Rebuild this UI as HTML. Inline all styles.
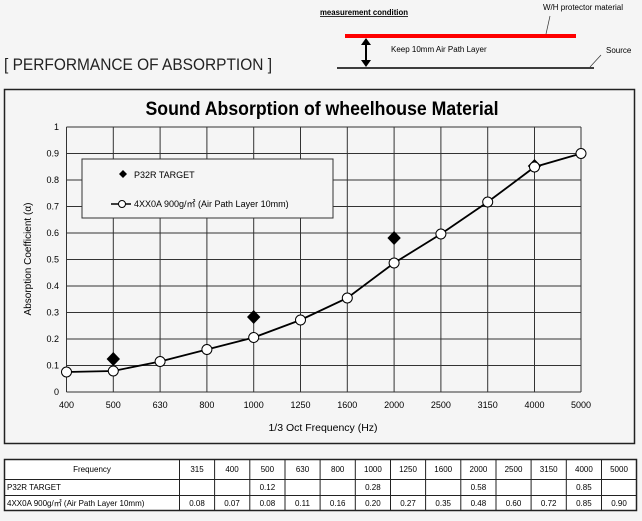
<!DOCTYPE html><html><head><meta charset="utf-8"><style>
body{margin:0;background:#f5f5f5;width:642px;height:516px;overflow:hidden;font-family:"Liberation Sans","Noto Sans CJK JP",sans-serif}
</style></head><body>
<svg width="642" height="516" xmlns="http://www.w3.org/2000/svg" font-family="Liberation Sans, Noto Sans CJK JP, sans-serif">
<rect width="642" height="516" fill="#f5f5f5"/>
<text x="320" y="15" font-size="8" font-weight="bold" text-decoration="underline" textLength="88" lengthAdjust="spacingAndGlyphs">measurement condition</text>
<text x="543" y="10" font-size="8">W/H protector material</text>
<line x1="546" y1="34" x2="550" y2="16" stroke="#333" stroke-width="0.7"/>
<rect x="345" y="34" width="231" height="4" fill="#f00"/>
<line x1="337" y1="68" x2="594" y2="68" stroke="#000" stroke-width="1.5"/>
<line x1="590" y1="67" x2="601" y2="55" stroke="#333" stroke-width="0.7"/>
<text x="606" y="53" font-size="8">Source</text>
<line x1="366" y1="43" x2="366" y2="62" stroke="#000" stroke-width="2"/>
<polygon points="361,45 371,45 366,38" fill="#000"/><polygon points="361,60 371,60 366,67" fill="#000"/>
<text x="391" y="52" font-size="8">Keep 10mm Air Path Layer</text>
<text x="4" y="70" font-size="17" fill="#222" textLength="268" lengthAdjust="spacingAndGlyphs">[ PERFORMANCE OF ABSORPTION ]</text>
<rect x="4.5" y="89.5" width="630" height="354" fill="#f5f5f5" stroke="#222" stroke-width="1.5"/>
<text x="322" y="115" font-size="19" font-weight="bold" text-anchor="middle" textLength="353" lengthAdjust="spacingAndGlyphs">Sound Absorption of wheelhouse Material</text>
<g stroke="#333" stroke-width="1">
<line x1="66.5" y1="127" x2="581" y2="127"/><line x1="66.5" y1="153.5" x2="581" y2="153.5"/><line x1="66.5" y1="180" x2="581" y2="180"/><line x1="66.5" y1="206.5" x2="581" y2="206.5"/><line x1="66.5" y1="233" x2="581" y2="233"/><line x1="66.5" y1="259.5" x2="581" y2="259.5"/><line x1="66.5" y1="286" x2="581" y2="286"/><line x1="66.5" y1="312.5" x2="581" y2="312.5"/><line x1="66.5" y1="339" x2="581" y2="339"/><line x1="66.5" y1="365.5" x2="581" y2="365.5"/><line x1="66.5" y1="392" x2="581" y2="392"/>
<line x1="66.5" y1="127" x2="66.5" y2="392"/><line x1="113.3" y1="127" x2="113.3" y2="392"/><line x1="160.1" y1="127" x2="160.1" y2="392"/><line x1="206.9" y1="127" x2="206.9" y2="392"/><line x1="253.7" y1="127" x2="253.7" y2="392"/><line x1="300.5" y1="127" x2="300.5" y2="392"/><line x1="347.3" y1="127" x2="347.3" y2="392"/><line x1="394.1" y1="127" x2="394.1" y2="392"/><line x1="440.9" y1="127" x2="440.9" y2="392"/><line x1="487.7" y1="127" x2="487.7" y2="392"/><line x1="534.5" y1="127" x2="534.5" y2="392"/><line x1="581" y1="127" x2="581" y2="392"/>
</g>
<g font-size="9" text-anchor="end">
<text x="59" y="130">1</text><text x="59" y="156.5">0.9</text><text x="59" y="183">0.8</text><text x="59" y="209.5">0.7</text><text x="59" y="236">0.6</text><text x="59" y="262.5">0.5</text><text x="59" y="289">0.4</text><text x="59" y="315.5">0.3</text><text x="59" y="342">0.2</text><text x="59" y="368.5">0.1</text><text x="59" y="395">0</text>
</g>
<g font-size="9" text-anchor="middle">
<text x="66.5" y="408">400</text><text x="113.3" y="408">500</text><text x="160.1" y="408">630</text><text x="206.9" y="408">800</text><text x="253.7" y="408">1000</text><text x="300.5" y="408">1250</text><text x="347.3" y="408">1600</text><text x="394.1" y="408">2000</text><text x="440.9" y="408">2500</text><text x="487.7" y="408">3150</text><text x="534.5" y="408">4000</text><text x="581" y="408">5000</text>
</g>
<text x="323" y="431" font-size="10.5" text-anchor="middle">1/3 Oct Frequency (Hz)</text>
<text transform="translate(31,259) rotate(-90)" font-size="10" text-anchor="middle">Absorption Coefficient (α)</text>
<rect x="82" y="159" width="251" height="59" fill="#f5f5f5" stroke="#333"/>
<polygon points="123,170 127,174 123,178 119,174" fill="#000"/>
<text x="134" y="178" font-size="9">P32R TARGET</text>
<line x1="111" y1="204" x2="131" y2="204" stroke="#000" stroke-width="1.5"/><circle cx="122" cy="204" r="3.5" fill="#fff" stroke="#000"/>
<text x="134" y="207" font-size="9">4XX0A 900g/㎡ (Air Path Layer 10mm)</text>
<g fill="#000">
<polygon points="113.3,352 120,359 113.3,366 106.6,359"/><polygon points="253.7,310 260.4,317 253.7,324 247,317"/><polygon points="394.1,231 400.8,238 394.1,245 387.4,238"/><polygon points="534.5,159 541.2,166 534.5,173 527.8,166"/>
</g>
<polyline fill="none" stroke="#000" stroke-width="1.8" points="66.5,372 113.3,371 160.1,361.5 206.9,349.5 253.7,337.5 300.5,320 347.3,298 394.1,263 440.9,234 487.7,202 534.5,167 581,153.5"/>
<g fill="#fff" stroke="#000" stroke-width="1">
<circle cx="66.5" cy="372" r="5"/><circle cx="113.3" cy="371" r="5"/><circle cx="160.1" cy="361.5" r="5"/><circle cx="206.9" cy="349.5" r="5"/><circle cx="253.7" cy="337.5" r="5"/><circle cx="300.5" cy="320" r="5"/><circle cx="347.3" cy="298" r="5"/><circle cx="394.1" cy="263" r="5"/><circle cx="440.9" cy="234" r="5"/><circle cx="487.7" cy="202" r="5"/><circle cx="534.5" cy="167" r="5"/><circle cx="581" cy="153.5" r="5"/>
</g>
<g stroke="#222" stroke-width="1">
<rect x="4.5" y="459.5" width="632" height="51" fill="#fff" stroke-width="1.5"/>
<line x1="4" y1="479.5" x2="636" y2="479.5"/><line x1="4" y1="495.5" x2="636" y2="495.5"/>
<line x1="179.5" y1="459" x2="179.5" y2="511"/><line x1="214.6" y1="459" x2="214.6" y2="511"/><line x1="249.8" y1="459" x2="249.8" y2="511"/><line x1="285" y1="459" x2="285" y2="511"/><line x1="320.1" y1="459" x2="320.1" y2="511"/><line x1="355.3" y1="459" x2="355.3" y2="511"/><line x1="390.5" y1="459" x2="390.5" y2="511"/><line x1="425.6" y1="459" x2="425.6" y2="511"/><line x1="460.8" y1="459" x2="460.8" y2="511"/><line x1="496" y1="459" x2="496" y2="511"/><line x1="531.1" y1="459" x2="531.1" y2="511"/><line x1="566.3" y1="459" x2="566.3" y2="511"/><line x1="601.5" y1="459" x2="601.5" y2="511"/>
</g>
<g font-size="8" text-anchor="middle">
<text x="92" y="472">Frequency</text>
<text x="197" y="472">315</text><text x="232" y="472">400</text><text x="267.4" y="472">500</text><text x="302.5" y="472">630</text><text x="337.7" y="472">800</text><text x="372.9" y="472">1000</text><text x="408" y="472">1250</text><text x="443.2" y="472">1600</text><text x="478.4" y="472">2000</text><text x="513.5" y="472">2500</text><text x="548.7" y="472">3150</text><text x="583.9" y="472">4000</text><text x="619" y="472">5000</text>
<text x="267.4" y="490">0.12</text><text x="372.9" y="490">0.28</text><text x="478.4" y="490">0.58</text><text x="583.9" y="490">0.85</text>
<text x="197" y="506">0.08</text><text x="232" y="506">0.07</text><text x="267.4" y="506">0.08</text><text x="302.5" y="506">0.11</text><text x="337.7" y="506">0.16</text><text x="372.9" y="506">0.20</text><text x="408" y="506">0.27</text><text x="443.2" y="506">0.35</text><text x="478.4" y="506">0.48</text><text x="513.5" y="506">0.60</text><text x="548.7" y="506">0.72</text><text x="583.9" y="506">0.85</text><text x="619" y="506">0.90</text>
</g>
<text x="7" y="490" font-size="8">P32R TARGET</text>
<text x="7" y="506" font-size="8">4XX0A 900g/㎡ (Air Path Layer 10mm)</text>
</svg>
</body></html>
